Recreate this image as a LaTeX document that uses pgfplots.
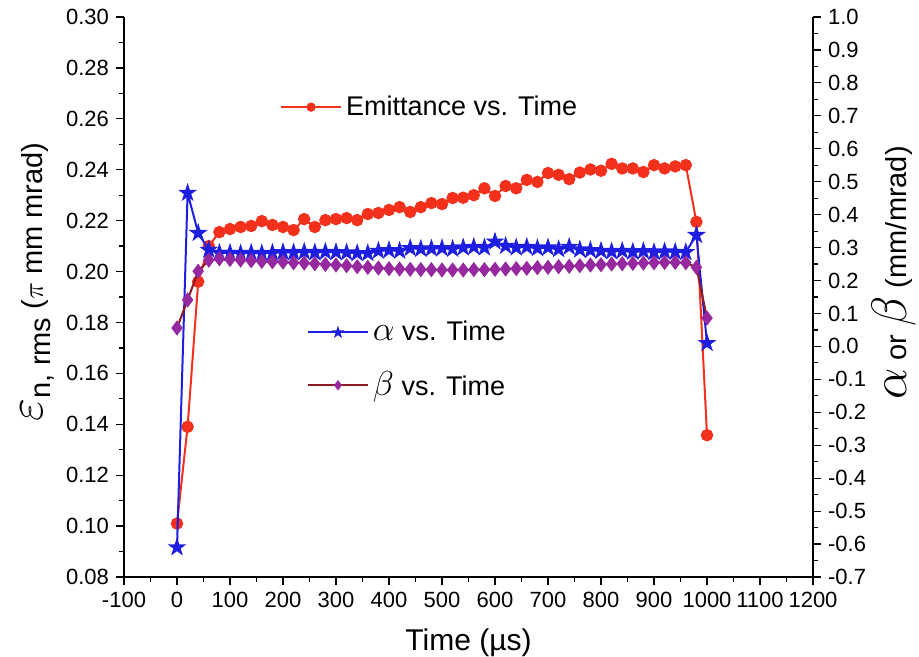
\documentclass[border=0pt]{standalone}
\usepackage{pgfplots}
\pgfplotsset{compat=1.18}
\usepackage{pgfplotstable}
\usepackage{fontspec}
\setmainfont{Liberation Sans}
\definecolor{emred}{RGB}{242,48,28}
\definecolor{alblue}{RGB}{30,30,225}
\definecolor{bepurple}{RGB}{150,40,160}
\definecolor{bemaroon}{RGB}{140,25,35}
\pgfdeclareplotmark{fstar}{%
  \pgfpathmoveto{\pgfqpoint{0pt}{\pgfplotmarksize}}%
  \pgfpathlineto{\pgfqpoint{-0.2245\pgfplotmarksize}{0.309\pgfplotmarksize}}%
  \pgfpathlineto{\pgfqpoint{-0.9511\pgfplotmarksize}{0.309\pgfplotmarksize}}%
  \pgfpathlineto{\pgfqpoint{-0.3633\pgfplotmarksize}{-0.118\pgfplotmarksize}}%
  \pgfpathlineto{\pgfqpoint{-0.5878\pgfplotmarksize}{-0.809\pgfplotmarksize}}%
  \pgfpathlineto{\pgfqpoint{0pt}{-0.382\pgfplotmarksize}}%
  \pgfpathlineto{\pgfqpoint{0.5878\pgfplotmarksize}{-0.809\pgfplotmarksize}}%
  \pgfpathlineto{\pgfqpoint{0.3633\pgfplotmarksize}{-0.118\pgfplotmarksize}}%
  \pgfpathlineto{\pgfqpoint{0.9511\pgfplotmarksize}{0.309\pgfplotmarksize}}%
  \pgfpathlineto{\pgfqpoint{0.2245\pgfplotmarksize}{0.309\pgfplotmarksize}}%
  \pgfpathclose
  \pgfusepathqfillstroke}
\pgfplotstableread{
t emit alpha beta
0 0.101 -0.61 0.056
20 0.139 0.466 0.141
40 0.196 0.344 0.228
60 0.210 0.293 0.262
80 0.2155 0.284 0.266
100 0.2167 0.284 0.264
120 0.2175 0.282 0.262
140 0.2179 0.284 0.260
160 0.2198 0.282 0.258
180 0.2183 0.284 0.257
200 0.2175 0.286 0.256
220 0.2163 0.285 0.254
240 0.2206 0.287 0.253
260 0.2175 0.285 0.251
280 0.2202 0.287 0.249
300 0.2206 0.286 0.247
320 0.2210 0.285 0.245
340 0.2202 0.283 0.242
360 0.2226 0.283 0.240
380 0.2230 0.290 0.238
400 0.2242 0.292 0.236
420 0.2253 0.290 0.235
440 0.2234 0.298 0.234
460 0.2253 0.296 0.233
480 0.2269 0.297 0.233
500 0.2265 0.298 0.232
520 0.2289 0.296 0.232
540 0.2290 0.300 0.232
560 0.2300 0.302 0.233
580 0.2327 0.300 0.233
600 0.2297 0.318 0.234
620 0.2336 0.305 0.235
640 0.2327 0.300 0.236
660 0.2360 0.302 0.237
680 0.2352 0.298 0.239
700 0.2387 0.300 0.240
720 0.2380 0.295 0.242
740 0.2363 0.302 0.243
760 0.2389 0.294 0.245
780 0.2401 0.292 0.247
800 0.2396 0.290 0.248
820 0.2423 0.288 0.250
840 0.2405 0.290 0.251
860 0.2405 0.287 0.252
880 0.2391 0.289 0.253
900 0.2418 0.286 0.254
920 0.2405 0.288 0.255
940 0.2413 0.287 0.255
960 0.2418 0.286 0.254
980 0.2195 0.338 0.240
1000 0.1357 0.010 0.086
}\data
\pgfplotsset{
  common/.style={
    scale only axis, width=344.5pt, height=280pt,
    xmin=-100, xmax=1200,
    tick align=outside, major tick length=4pt, minor tick length=2.5pt,
    every tick/.style={black, line width=0.6pt},
    axis line style={black, line width=0.6pt},
    /pgf/number format/assume math mode=true,
    /pgf/number format/1000 sep={},
    tick label style={font=\fontsize{11}{13}\selectfont},
    scaled ticks=false,
    legend cell align=left,
    legend image code/.code={\draw[mark repeat=2,mark phase=2,##1] plot coordinates {(0pt,0pt) (15pt,0pt) (30pt,0pt)};},
    legend image post style={mark size=1.8pt},
  }
}
\begin{document}
\begin{tikzpicture}
\begin{axis}[common, name=ax,
  ymin=0.08, ymax=0.30,
  axis x line*=bottom, axis y line*=left,
  xtick pos=bottom, ytick pos=left,
  xtick={-100,0,100,200,300,400,500,600,700,800,900,1000,1100,1200},
  ytick={0.08,0.10,0.12,0.14,0.16,0.18,0.20,0.22,0.24,0.26,0.28,0.30},
  minor x tick num=1, minor y tick num=1,
  yticklabel style={/pgf/number format/.cd, fixed, fixed zerofill, precision=2},
  xlabel={Time (µs)},
  xlabel style={at={(axis description cs:0.5,-0.118)}, anchor=center, font=\fontsize{15}{17}\selectfont},
  ylabel={{\fontsize{26}{26}\selectfont$\varepsilon$}\raisebox{-4pt}{n, rms} ($\pi$ mm mrad)},
  ylabel style={at={(axis description cs:-0.1248,0.527)}, anchor=center, font=\fontsize{14.5}{16}\selectfont},
  legend style={at={(0.226,0.839)}, anchor=west, draw=none, fill=none,
    font=\fontsize{13.5}{15}\selectfont, inner sep=0pt},
]
\addplot[color=emred, line width=1pt, mark=*, mark size=2.6pt, mark options={fill=emred, draw=emred}] table[x=t, y=emit] {\data};
\addlegendentry{Emittance vs. Time}
\end{axis}
\begin{axis}[common,
  ymin=-0.7, ymax=1.0,
  axis x line=none, axis y line*=right,
  ytick pos=right, yticklabel pos=right,
  ytick={-0.7,-0.6,-0.5,-0.4,-0.3,-0.2,-0.1,0,0.1,0.2,0.3,0.4,0.5,0.6,0.7,0.8,0.9,1.0},
  minor y tick num=1,
  yticklabel style={/pgf/number format/.cd, fixed, fixed zerofill, precision=1},
  ylabel={{\fontsize{24}{24}\selectfont$\alpha$} or {\fontsize{24}{24}\selectfont$\beta$} (mm/mrad)},
  ylabel style={at={(axis description cs:1.118,0.543)}, anchor=center, font=\fontsize{14.5}{16}\selectfont},
  legend style={at={(0.265,0.3875)}, anchor=west, draw=none, fill=none,
    font=\fontsize{13.5}{15}\selectfont, inner sep=0pt, row sep=10pt},
]
\addplot[color=alblue, line width=1pt, mark=fstar, mark size=3.4pt, mark options={fill=alblue, draw=alblue}] table[x=t, y=alpha] {\data};
\addlegendentry{{\fontsize{17}{17}\selectfont$\alpha$} vs. Time}
\addplot[color=bemaroon, line width=1pt, mark=diamond*, mark size=3pt, mark options={fill=bepurple, draw=bepurple}] table[x=t, y=beta] {\data};
\addlegendentry{{\fontsize{17}{17}\selectfont$\beta$} vs. Time}
\end{axis}
\pgfresetboundingbox
\path[use as bounding box] ([shift={(-62pt,-40pt)}]ax.south west) rectangle ([shift={(53pt,8.5pt)}]ax.north east);
\end{tikzpicture}
\end{document}
